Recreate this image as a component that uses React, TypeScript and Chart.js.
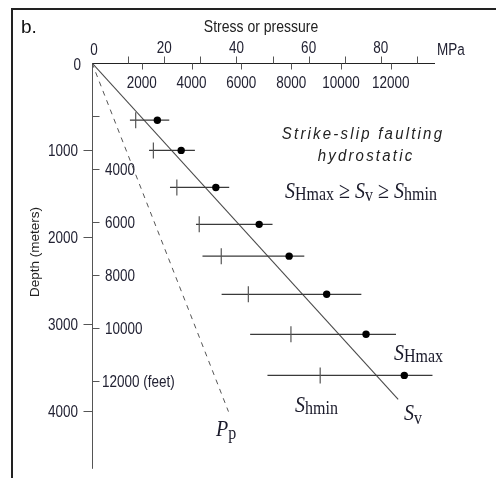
import React, { useEffect, useRef } from "react";
import { Chart, registerables } from "chart.js";

Chart.register(...registerables);

// ---- Data (stress in MPa, depth in meters) ----
const depthsM = [658, 1006, 1432, 1857, 2223, 2662, 3122, 3595];
const sHmaxMPa = [18.1, 24.7, 34.3, 46.3, 54.6, 65.0, 75.9, 86.5];
const sHminMPa = [12.1, 17.0, 23.5, 29.7, 35.8, 43.3, 55.1, 63.2];
const rangeLowMPa = [10.5, 15.8, 21.6, 28.8, 30.6, 35.9, 43.8, 48.6];
const rangeHighMPa = [21.4, 28.5, 38.0, 50.0, 58.8, 74.6, 84.2, 94.3];
const svDepthsM = [0, 3871];
const svMPa = [0, 84.8];
const ppDepthsM = [0, 4012];
const ppMPa = [0, 37.8];

// ---- Axis ticks ----
const mpaTicks = [10, 20, 30, 40, 50, 60, 70, 80, 90];
const mpaLabels = [0, 20, 40, 60, 80];
const psiTicks = [2000, 4000, 6000, 8000, 10000, 12000];
const psiLabels = ["2000", "4000", "6000", "8000", "10000", "12000"];
const meterTicks = [1000, 2000, 3000, 4000];
const meterLabels = ["1000", "2000", "3000", "4000"];
const feetTicks = [2000, 4000, 6000, 8000, 10000, 12000];
const feetLabels = ["", "4000", "6000", "8000", "10000", "12000 (feet)"];

const PSI_PER_MPA = 145.038;
const M_PER_FT = 0.3048;

const SANS = '"Liberation Sans", Arial, Helvetica, sans-serif';
const SERIF = '"Liberation Serif", "Times New Roman", serif';
const SY = 1.15;
const TSY = 1.22;

function txt(
  ctx: CanvasRenderingContext2D,
  s: string,
  x: number,
  y: number,
  font: string,
  align: CanvasTextAlign = "left",
  color = "#222",
  sy = SY,
  spacing = "0px"
): number {
  ctx.save();
  ctx.font = font;
  ctx.fillStyle = color;
  ctx.textAlign = align;
  ctx.textBaseline = "alphabetic";
  (ctx as any).letterSpacing = spacing;
  ctx.translate(x, y);
  ctx.scale(1, sy);
  ctx.fillText(s, 0, 0);
  const w = ctx.measureText(s).width;
  ctx.restore();
  return w;
}

function subLabel(
  ctx: CanvasRenderingContext2D,
  x: number,
  y: number,
  main: string,
  sub: string,
  mainSize = 20,
  subSize = 16,
  dy = 2
): number {
  const w1 = txt(ctx, main, x, y, `italic ${mainSize}px ${SERIF}`, "left", "#1a1a2a");
  const w2 = txt(ctx, sub, x + w1, y + dy, `${subSize}px ${SERIF}`, "left", "#1a1a2a");
  return x + w1 + w2;
}

function seg(ctx: CanvasRenderingContext2D, x1: number, y1: number, x2: number, y2: number) {
  ctx.beginPath();
  ctx.moveTo(x1, y1);
  ctx.lineTo(x2, y2);
  ctx.stroke();
}

const decor = {
  id: "decor",
  beforeDatasetsDraw(chart: any) {
    const { ctx, chartArea: ca, scales } = chart;
    const xs = scales.x;
    const ys = scales.y;
    ctx.save();
    // frame (partial box)
    ctx.strokeStyle = "#222";
    ctx.lineWidth = 2;
    ctx.beginPath();
    ctx.moveTo(12, 478);
    ctx.lineTo(12, 9);
    ctx.lineTo(496, 9);
    ctx.stroke();

    const axY = Math.round(ys.getPixelForValue(0)) + 0.5;
    const axX = Math.round(xs.getPixelForValue(0)) + 0.5;

    // top axis
    ctx.lineWidth = 1;
    ctx.strokeStyle = "#222";
    seg(ctx, axX - 0.5, axY, ca.right, axY);
    ctx.strokeStyle = "#555";
    mpaTicks.forEach((v) => {
      const px = Math.round(xs.getPixelForValue(v)) + 0.5;
      seg(ctx, px, axY - 7, px, axY);
    });
    psiTicks.forEach((p) => {
      const px = Math.round(xs.getPixelForValue(p / PSI_PER_MPA)) + 0.5;
      seg(ctx, px, axY, px, axY + 6);
    });

    // left axis
    ctx.strokeStyle = "#555";
    seg(ctx, axX, axY, axX, ca.bottom);
    meterTicks.forEach((m) => {
      const py = Math.round(ys.getPixelForValue(m)) + 0.5;
      seg(ctx, axX - 9, py, axX, py);
    });
    feetTicks.forEach((f) => {
      const py = Math.round(ys.getPixelForValue(f * M_PER_FT)) + 0.5;
      seg(ctx, axX, py, axX + 7, py);
    });
    ctx.restore();
  },
  afterDraw(chart: any) {
    const { ctx, scales } = chart;
    const xs = scales.x;
    const ys = scales.y;
    const axY = ys.getPixelForValue(0);
    const axX = xs.getPixelForValue(0);
    const tickFont = `13.5px ${SANS}`;
    const tc = "#222233";

    // panel letter and axis titles
    txt(ctx, "b.", 21, 33, `19px ${SANS}`, "left", "#111", 1.0);
    txt(ctx, "Stress or pressure", 261, 32, `14px ${SANS}`, "center", "#222");
    txt(ctx, "MPa", 437, 55, `13.5px ${SANS}`, "left", tc, TSY);

    // MPa labels above the axis
    mpaLabels.forEach((v) => {
      const px = xs.getPixelForValue(v) + (v === 0 ? 2 : 0);
      txt(ctx, String(v), px, axY - 10 + (v === 0 ? 2 : 0), tickFont, "center", tc, TSY);
    });
    // psi labels below the axis
    psiTicks.forEach((p, i) => {
      const px = xs.getPixelForValue(p / PSI_PER_MPA);
      txt(ctx, psiLabels[i], px, axY + 25, tickFont, "center", tc, TSY);
    });

    // depth labels (meters) left
    txt(ctx, "0", axX - 11, axY + 7, tickFont, "right", tc, TSY);
    meterTicks.forEach((m, i) => {
      const py = ys.getPixelForValue(m);
      txt(ctx, meterLabels[i], axX - 14, py + 6, tickFont, "right", tc, TSY);
    });
    // depth labels (feet) right of the axis
    feetTicks.forEach((f, i) => {
      if (!feetLabels[i]) return;
      const py = ys.getPixelForValue(f * M_PER_FT);
      const off = i === feetTicks.length - 1 ? 10 : 13;
      txt(ctx, feetLabels[i], axX + off, py + 6, tickFont, "left", tc, TSY);
    });

    // rotated y title
    ctx.save();
    ctx.translate(35, 252);
    ctx.rotate(-Math.PI / 2);
    ctx.scale(1.04, 1.05);
    ctx.font = `13px ${SANS}`;
    ctx.fillStyle = "#222";
    ctx.textAlign = "center";
    ctx.textBaseline = "middle";
    ctx.fillText("Depth (meters)", 0, 0);
    ctx.restore();

    // annotation block
    txt(ctx, "Strike-slip faulting", 363, 139, `italic 15px ${SANS}`, "center", "#222", SY, "2.2px");
    txt(ctx, "hydrostatic", 366, 161, `italic 15px ${SANS}`, "center", "#222", SY, "2.2px");
    let x = 285;
    const by = 197.5;
    x = subLabel(ctx, x, by, "S", "Hmax");
    x += txt(ctx, " \u2265 ", x, by, `20px ${SERIF}`, "left", "#1a1a2a");
    x = subLabel(ctx, x, by, "S", "v", 20, 16, 3);
    x += txt(ctx, " \u2265 ", x, by, `20px ${SERIF}`, "left", "#1a1a2a");
    subLabel(ctx, x, by, "S", "hmin");

    // curve labels
    subLabel(ctx, 394, 360, "S", "Hmax");
    subLabel(ctx, 295, 411.5, "S", "hmin");
    subLabel(ctx, 404, 420, "S", "v", 20, 16, 4);
    subLabel(ctx, 216, 436, "P", "p", 20, 16, 3);
  },
};

export default function App() {
  const ref = useRef<HTMLCanvasElement | null>(null);

  useEffect(() => {
    document.body.style.margin = "0";
    const canvas = ref.current;
    if (!canvas) return;

    const datasets: any[] = [];
    datasets.push({
      label: "SHmax",
      data: depthsM.map((d, i) => ({ x: sHmaxMPa[i], y: d })),
      showLine: false,
      pointStyle: "circle",
      pointRadius: 3.7,
      pointBackgroundColor: "#000",
      pointBorderColor: "#000",
      pointBorderWidth: 0,
    });
    datasets.push({
      label: "Shmin",
      data: depthsM.map((d, i) => ({ x: sHminMPa[i], y: d })),
      showLine: false,
      pointStyle: "line",
      pointRotation: 90,
      pointRadius: 8,
      pointBorderColor: "#555",
      pointBorderWidth: 1.2,
      pointBackgroundColor: "#555",
    });
    depthsM.forEach((d, i) => {
      datasets.push({
        label: "range" + i,
        data: [
          { x: rangeLowMPa[i], y: d },
          { x: rangeHighMPa[i], y: d },
        ],
        showLine: true,
        pointRadius: 0,
        borderColor: "#3a3a3a",
        borderWidth: 1.2,
      });
    });
    datasets.push({
      label: "Sv",
      data: svDepthsM.map((d, i) => ({ x: svMPa[i], y: d })),
      showLine: true,
      pointRadius: 0,
      borderColor: "#4a4a4a",
      borderWidth: 1.1,
    });
    datasets.push({
      label: "Pp",
      data: ppDepthsM.map((d, i) => ({ x: ppMPa[i], y: d })),
      showLine: true,
      pointRadius: 0,
      borderColor: "#555",
      borderWidth: 1,
      borderDash: [5, 5],
    });

    const chart = new Chart(canvas, {
      type: "scatter",
      data: { datasets },
      options: {
        responsive: false,
        animation: false,
        devicePixelRatio: 1,
        events: [],
        layout: { padding: { left: 92, right: 61, top: 63, bottom: 3 } },
        plugins: {
          legend: { display: false },
          tooltip: { enabled: false },
        },
        scales: {
          x: { type: "linear", min: 0, max: 95, display: false },
          y: { type: "linear", min: 0, max: 4670, reverse: true, display: false },
        },
      },
      plugins: [decor],
    } as any);

    return () => chart.destroy();
  }, []);

  return (
    <canvas
      ref={ref}
      width={496}
      height={478}
      style={{ display: "block", width: 496, height: 478 }}
    />
  );
}
